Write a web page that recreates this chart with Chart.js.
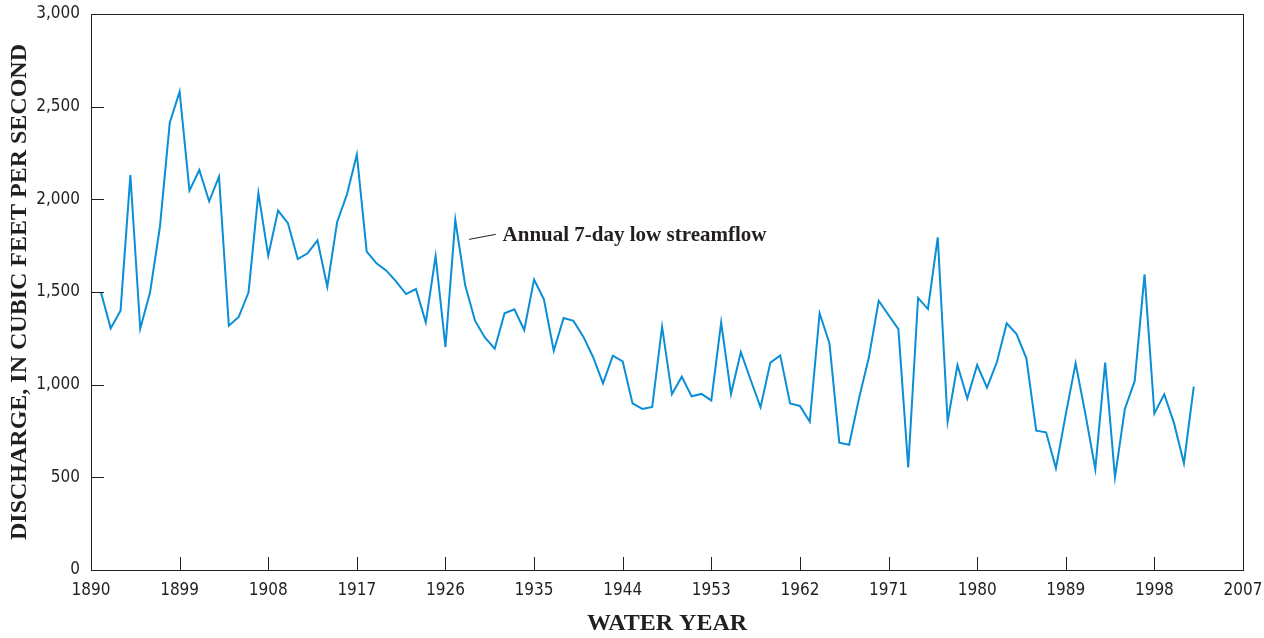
<!DOCTYPE html>
<html>
<head>
<meta charset="utf-8">
<script src="https://cdn.jsdelivr.net/npm/chart.js@4.4.1/dist/chart.umd.min.js"></script>
<style>
  html, body { margin: 0; padding: 0; background: #fff; }
  #wrap { width: 1264px; height: 638px; }
</style>
</head>
<body>
<div id="wrap"><canvas id="c" width="1264" height="638"></canvas></div>
<script>
const years = [
  1891,1892,1893,1894,1895,1896,1897,1898,1899,1900,
  1901,1902,1903,1904,1905,1906,1907,1908,1909,1910,
  1911,1912,1913,1914,1915,1916,1917,1918,1919,1920,
  1921,1922,1923,1924,1925,1926,1927,1928,1929,1930,
  1931,1932,1933,1934,1935,1936,1937,1938,1939,1940,
  1941,1942,1943,1944,1945,1946,1947,1948,1949,1950,
  1951,1952,1953,1954,1955,1956,1957,1958,1959,1960,
  1961,1962,1963,1964,1965,1966,1967,1968,1969,1970,
  1971,1972,1973,1974,1975,1976,1977,1978,1979,1980,
  1981,1982,1983,1984,1985,1986,1987,1988,1989,1990,
  1991,1992,1993,1994,1995,1996,1997,1998,1999,2000,
  2001,2002
];
const lowFlow7Day = [
  1500,1304,1399,2131,1302,1498,1852,2414,2581,2047,
  2158,1989,2122,1318,1365,1498,2034,1696,1939,1871,
  1678,1709,1779,1529,1878,2027,2242,1718,1655,1615,
  1556,1489,1516,1336,1694,1203,1889,1538,1345,1255,
  1194,1385,1407,1295,1567,1461,1183,1360,1344,1259,
  1148,1007,1156,1125,899,869,880,1313,948,1043,
  937,950,915,1336,950,1176,1025,878,1119,1158,
  899,885,800,1385,1223,687,676,926,1146,1453,
  1376,1300,554,1468,1408,1795,800,1106,926,1106,
  984,1121,1331,1273,1142,752,743,549,840,1115,
  840,545,1119,500,869,1020,1595,845,948,791,
  576,989
];
const xTickValues = [1890,1899,1908,1917,1926,1935,1944,1953,1962,1971,1980,1989,1998,2007];
const yTickValues = [0,500,1000,1500,2000,2500,3000];
const seriesLabel = "Annual 7-day low streamflow";
const yTitle = "DISCHARGE, IN CUBIC FEET PER SECOND";
const xTitle = "WATER YEAR";
// annotation anchor in data units: leader line start/end, label start
const annoLine = [[1928.4, 1784], [1931.1, 1811]];
const annoText = [1931.8, 1804];

const AXIS_COLOR = '#231f20';
const LINE_COLOR = '#0a8ed6';
const TICK_FONT = "'Liberation Sans Narrow', 'DejaVu Sans Condensed', 'Arial Narrow', sans-serif";
const SERIF = "'Liberation Serif', 'Times New Roman', serif";

const framePlugin = {
  id: 'frame',
  afterDatasetsDraw(chart) {
    const ctx = chart.ctx, a = chart.chartArea;
    const xs = chart.scales.x, ys = chart.scales.y;
    ctx.save();
    ctx.strokeStyle = AXIS_COLOR;
    ctx.lineWidth = 1;
    ctx.strokeRect(Math.round(a.left) + 0.5, Math.round(a.top) + 0.5,
                   Math.round(a.right - a.left), Math.round(a.bottom - a.top));
    const TL = 13;
    ctx.beginPath();
    xTickValues.forEach(v => {
      const px = Math.round(xs.getPixelForValue(v)) + 0.5;
      ctx.moveTo(px, a.bottom); ctx.lineTo(px, a.bottom - TL);
    });
    yTickValues.forEach(v => {
      const py = Math.round(ys.getPixelForValue(v)) + 0.5;
      ctx.moveTo(a.left, py); ctx.lineTo(a.left + TL, py);
    });
    ctx.stroke();
    // annotation
    ctx.beginPath();
    ctx.moveTo(xs.getPixelForValue(annoLine[0][0]), ys.getPixelForValue(annoLine[0][1]));
    ctx.lineTo(xs.getPixelForValue(annoLine[1][0]), ys.getPixelForValue(annoLine[1][1]));
    ctx.stroke();
    ctx.fillStyle = AXIS_COLOR;
    ctx.font = "bold 21px " + SERIF;
    ctx.textBaseline = 'middle';
    ctx.textAlign = 'left';
    ctx.fillText(seriesLabel, xs.getPixelForValue(annoText[0]), ys.getPixelForValue(annoText[1]));
    ctx.restore();
  }
};

new Chart(document.getElementById('c'), {
  type: 'line',
  data: {
    datasets: [{
      label: seriesLabel,
      data: years.map((y, i) => ({ x: y, y: lowFlow7Day[i] })),
      borderColor: LINE_COLOR,
      borderWidth: 2,
      pointRadius: 0,
      tension: 0,
      fill: false
    }]
  },
  options: {
    responsive: false,
    animation: false,
    events: [],
    layout: { padding: { top: 14, right: 21, left: 0, bottom: 0 } },
    plugins: { legend: { display: false }, tooltip: { enabled: false } },
    scales: {
      x: {
        type: 'linear',
        min: 1890, max: 2007,
        afterBuildTicks: s => { s.ticks = xTickValues.map(v => ({ value: v })); },
        afterFit: s => { s.height = 68; s.paddingLeft = 0; s.paddingRight = 0; },
        grid: { display: false, drawTicks: false },
        border: { display: false },
        ticks: {
          autoSkip: false, maxRotation: 0,
          padding: 10,
          color: AXIS_COLOR,
          font: { family: TICK_FONT, size: 17 },
          callback: v => String(v)
        },
        title: {
          display: true, text: xTitle, color: AXIS_COLOR,
          font: { family: SERIF, size: 24, weight: 'bold' },
          padding: { top: 8, bottom: 0 }
        }
      },
      y: {
        min: 0, max: 3000,
        afterBuildTicks: s => { s.ticks = yTickValues.map(v => ({ value: v })); },
        afterFit: s => { s.width = 91; s.paddingTop = 0; s.paddingBottom = 0; },
        grid: { display: false, drawTicks: false },
        border: { display: false },
        ticks: {
          padding: 11,
          color: AXIS_COLOR,
          font: { family: TICK_FONT, size: 17 },
          callback: v => v.toLocaleString('en-US')
        },
        title: {
          display: true, text: yTitle, color: AXIS_COLOR,
          font: { family: SERIF, size: 24, weight: 'bold' },
          padding: { top: 5, bottom: 0 }
        }
      }
    }
  },
  plugins: [framePlugin]
});
</script>
</body>
</html>
